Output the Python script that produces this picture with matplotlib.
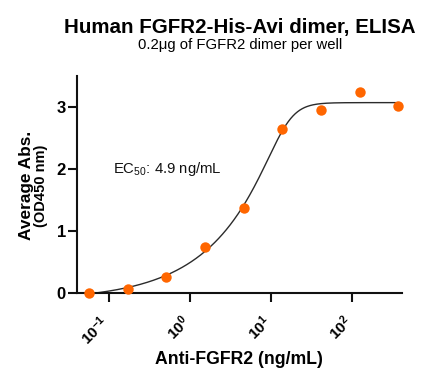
import numpy as np
import matplotlib
matplotlib.use("Agg")
import matplotlib.pyplot as plt
from matplotlib.ticker import FixedLocator, FixedFormatter, NullLocator
import matplotlib.transforms as mtransforms

plt.rcParams['font.family'] = ['Liberation Sans', 'DejaVu Sans']
plt.rcParams['mathtext.fontset'] = 'custom'
plt.rcParams['mathtext.rm'] = 'Liberation Sans'
plt.rcParams['mathtext.it'] = 'Liberation Sans:italic'
plt.rcParams['mathtext.bf'] = 'Liberation Sans:bold'

# ---- data ----
concentration = [0.0564, 0.169, 0.508, 1.52, 4.57, 13.7, 41.1, 123.3, 370.0]
absorbance = [0.0, 0.065, 0.25, 0.735, 1.37, 2.64, 2.95, 3.24, 3.02]
x_ticks = [0.1, 1, 10, 100]
x_tick_labels = [r'$\mathbf{10^{-1}}$', r'$\mathbf{10^{0}}$', r'$\mathbf{10^{1}}$', r'$\mathbf{10^{2}}$']
y_ticks = [0, 1, 2, 3]
y_tick_labels = ['0', '1', '2', '3']
title = 'Human FGFR2-His-Avi dimer, ELISA'
subtitle = '0.2μg of FGFR2 dimer per well'
ec50_text = 'EC$_{50}$: 4.9 ng/mL'

# ---- asymmetric sigmoid (5PL) fit ----
t_data = np.log10(np.array(concentration))
y_data = np.array(absorbance)
top = float(np.mean(y_data[-3:]))      # plateau = mean of the saturated points

def model(p, t):
    B, u, b, ls = p
    e = np.clip(b * (u - t), -60, 60)
    return B + (top - B) / (1.0 + 10.0 ** e) ** np.exp(ls)

def sse(p):
    if p[2] <= 0.2 or p[2] > 8 or abs(p[3]) > 3:
        return 1e9
    return float(np.sum((model(p, t_data) - y_data) ** 2))

def nelder_mead(f, x0, step, iters=3000):
    n = len(x0)
    pts = [np.array(x0, float)]
    for i in range(n):
        q = np.array(x0, float)
        q[i] += step[i]
        pts.append(q)
    vals = [f(q) for q in pts]
    for _ in range(iters):
        order = np.argsort(vals)
        pts = [pts[i] for i in order]
        vals = [vals[i] for i in order]
        c = np.mean(pts[:-1], axis=0)
        xr = c + (c - pts[-1]); fr = f(xr)
        if fr < vals[0]:
            xe = c + 2 * (c - pts[-1]); fe = f(xe)
            if fe < fr:
                pts[-1], vals[-1] = xe, fe
            else:
                pts[-1], vals[-1] = xr, fr
        elif fr < vals[-2]:
            pts[-1], vals[-1] = xr, fr
        else:
            xc = c + 0.5 * (pts[-1] - c); fc = f(xc)
            if fc < vals[-1]:
                pts[-1], vals[-1] = xc, fc
            else:
                pts = [pts[0] + 0.5 * (q - pts[0]) for q in pts]
                vals = [f(q) for q in pts]
    i = int(np.argmin(vals))
    return pts[i], vals[i]

best = None
for B0 in [-0.3, -0.15, 0.0]:
    for b0 in [1.5, 2.5, 3.5]:
        for s0 in [0.3, 0.6, 1.0]:
            p, v = nelder_mead(sse, [B0, 0.9, b0, np.log(s0)], [0.1, 0.2, 0.4, 0.3])
            if best is None or v < best[1]:
                best = (p, v)
p_fit = best[0]
t_curve = np.linspace(t_data.min(), t_data.max(), 400)
y_curve = model(p_fit, t_curve)

# ---- figure ----
W, H = 444, 379
fig = plt.figure(figsize=(W / 100, H / 100), dpi=100)
ax = fig.add_axes([77 / W, 1 - 292.7 / H, (401.7 - 77) / W, (292.7 - 76) / H])

ax.plot(10 ** t_curve, y_curve, color='#2b2b2b', lw=1.0, zorder=2)
ax.plot(concentration, absorbance, 'o', color='#FF6600', ms=7.5, mec='none', clip_on=False, zorder=3)

ax.set_xscale('log')
ax.set_xlim(10 ** -1.399, 10 ** 2.61)
ax.set_ylim(0, 3.5)

ax.xaxis.set_major_locator(FixedLocator(x_ticks))
ax.xaxis.set_major_formatter(FixedFormatter(x_tick_labels))
ax.xaxis.set_minor_locator(NullLocator())
ax.yaxis.set_major_locator(FixedLocator(y_ticks))
ax.yaxis.set_major_formatter(FixedFormatter(y_tick_labels))

for s in ['top', 'right']:
    ax.spines[s].set_visible(False)
for s in ['left', 'bottom']:
    ax.spines[s].set_linewidth(1.5)
    ax.spines[s].set_color('#111111')

ax.tick_params(axis='both', direction='out', length=6.5, width=1.5, color='#111111')
ax.tick_params(axis='y', labelsize=12, pad=1.5)
ax.tick_params(axis='x', labelsize=11, pad=8)
for lab in ax.get_yticklabels():
    lab.set_fontweight('bold')
offset = mtransforms.ScaledTranslation(3 / 100, 0, fig.dpi_scale_trans)
for lab in ax.get_xticklabels():
    lab.set_rotation(45)
    lab.set_ha('right')
    lab.set_va('top')
    lab.set_transform(lab.get_transform() + offset)

ax.text(0.111, 1.99, ec50_text, fontsize=10.7, va='center', ha='left', color='#111111')

fig.text(239.5 / W, 1 - 33 / H, title, fontsize=14.8, fontweight='bold', ha='center', va='baseline')
fig.text(240 / W, 1 - 49.3 / H, subtitle, fontsize=10.7, ha='center', va='baseline')
fig.text(239 / W, 1 - 360 / H, 'Anti-FGFR2 (ng/mL)', fontsize=12.7, fontweight='bold', ha='center', va='center')
fig.text(26.5 / W, 1 - 185 / H, 'Average Abs.', fontsize=12.4, fontweight='bold', rotation=90, ha='center', va='center')
fig.text(41 / W, 1 - 186 / H, '(OD450 nm)', fontsize=10.5, fontweight='bold', rotation=90, ha='center', va='center')

fig.savefig('out.png', dpi=100)
